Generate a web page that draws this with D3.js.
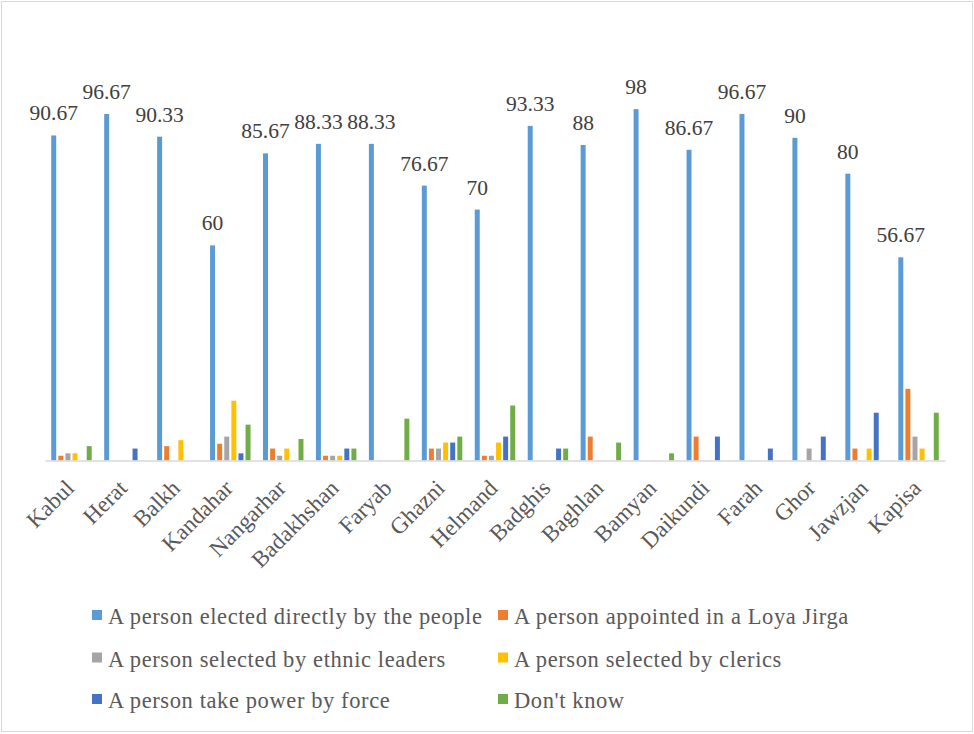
<!DOCTYPE html>
<html>
<head>
<meta charset="utf-8">
<script src="https://cdn.jsdelivr.net/npm/d3@7"></script>
<style>
  html, body { margin: 0; padding: 0; background: #fff; }
  svg { display: block; }
</style>
</head>
<body>
<svg id="chart" width="974" height="734"></svg>
<script>
// Provinces along the x axis
const provinces = ["Kabul", "Herat", "Balkh", "Kandahar", "Nangarhar", "Badakhshan", "Faryab",
  "Ghazni", "Helmand", "Badghis", "Baghlan", "Bamyan", "Daikundi", "Farah", "Ghor", "Jawzjan", "Kapisa"];

// Series names (legend order)
const seriesNames = [
  "A person elected directly by the people",
  "A person appointed in a Loya Jirga",
  "A person selected by ethnic leaders",
  "A person selected by clerics",
  "A person take power by force",
  "Don't know"
];

// Percentages per series, one value per province
const electedByPeople = [90.67, 96.67, 90.33, 60, 85.67, 88.33, 88.33, 76.67, 70, 93.33, 88, 98, 86.67, 96.67, 90, 80, 56.67];
const appointedLoyaJirga = [1.33, 0, 4, 4.67, 3.33, 1.33, 0, 3.33, 1.33, 0, 6.67, 0, 6.67, 0, 0, 3.33, 20];
const ethnicLeaders = [2, 0, 0, 6.67, 1.33, 1.33, 0, 3.33, 1.33, 0, 0, 0, 0, 0, 3.33, 0, 6.67];
const clerics = [2, 0, 5.67, 16.67, 3.33, 1.33, 0, 5, 5, 0, 0, 0, 0, 0, 0, 3.33, 3.33];
const powerByForce = [0, 3.33, 0, 2, 0, 3.33, 0, 5, 6.67, 3.33, 0, 0, 6.67, 3.33, 6.67, 13.33, 0];
const dontKnow = [4, 0, 0, 10, 6, 3.33, 11.67, 6.67, 15.33, 3.33, 5, 2, 0, 0, 0, 0, 13.33];

const seriesValues = [electedByPeople, appointedLoyaJirga, ethnicLeaders, clerics, powerByForce, dontKnow];
const colors = ["#5B9BD5", "#ED7D31", "#A5A5A5", "#FFC000", "#4472C4", "#70AD47"];

const svg = d3.select("#chart");
const serif = "'Liberation Serif', 'Times New Roman', Times, serif";

// Outer chart frame
svg.append("rect")
  .attr("x", 1.5).attr("y", 1.5)
  .attr("width", 971).attr("height", 730)
  .attr("fill", "#fff")
  .attr("stroke", "#d9d9d9")
  .attr("stroke-width", 1);

const left = 45, right = 945, baseline = 460.5;

const x0 = d3.scaleBand().domain(provinces).range([left, right]).padding(0);
const x1 = d3.scaleBand().domain(d3.range(seriesNames.length))
  .range([0, x0.bandwidth()]).paddingInner(0.3).paddingOuter(0.88);
const y = d3.scaleLinear().domain([0, 100]).range([baseline, baseline - 358.5]);

// Bars
const groups = svg.append("g").selectAll("g")
  .data(provinces)
  .join("g")
  .attr("transform", d => `translate(${x0(d)},0)`);

groups.selectAll("rect")
  .data((p, i) => seriesValues.map((vals, s) => ({ s, v: vals[i] })))
  .join("rect")
  .attr("x", d => x1(d.s))
  .attr("width", x1.bandwidth())
  .attr("y", d => y(d.v))
  .attr("height", d => y(0) - y(d.v))
  .attr("fill", d => colors[d.s]);

// Value labels on the first series
groups.append("text")
  .attr("x", () => x1(0) + x1.bandwidth() / 2)
  .attr("y", (p, i) => y(electedByPeople[i]) - 15)
  .attr("text-anchor", "middle")
  .attr("font-family", serif)
  .attr("font-size", 21.5)
  .attr("fill", "#404040")
  .text((p, i) => String(electedByPeople[i]));

// Category axis
const xAxis = svg.append("g")
  .attr("transform", `translate(0,${baseline})`)
  .call(d3.axisBottom(x0).tickSize(0).tickPadding(0));
xAxis.select(".domain").attr("stroke", "#d9d9d9").attr("stroke-width", 1.5);
xAxis.selectAll(".tick text")
  .attr("font-family", serif)
  .attr("font-size", 23)
  .attr("fill", "#595959")
  .attr("text-anchor", "end")
  .attr("dy", null)
  .attr("transform", "translate(4,29) rotate(-45)");

// Legend
const legendItems = seriesNames.map((name, i) => ({ name, i }));
const legend = svg.append("g");
const colX = [92, 498];
const rowY = [616, 658.5, 700];
const item = legend.selectAll("g")
  .data(legendItems)
  .join("g")
  .attr("transform", d => `translate(${colX[d.i % 2]},${rowY[Math.floor(d.i / 2)]})`);
item.append("rect")
  .attr("x", 0).attr("y", -6)
  .attr("width", 10).attr("height", 10)
  .attr("fill", d => colors[d.i]);
item.append("text")
  .attr("x", 16).attr("y", 8)
  .attr("font-family", serif)
  .attr("font-size", 22.5)
  .attr("letter-spacing", 0.6)
  .attr("fill", "#595959")
  .text(d => d.name);
</script>
</body>
</html>
